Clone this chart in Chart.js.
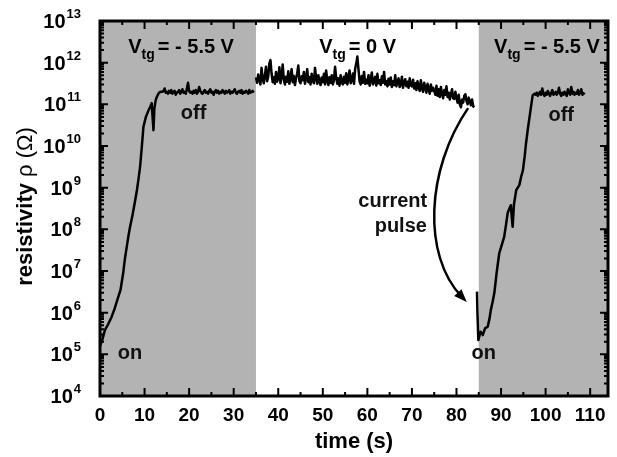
<!DOCTYPE html>
<html><head><meta charset="utf-8">
<script src="https://cdn.jsdelivr.net/npm/chart.js@4.4.0/dist/chart.umd.min.js"></script>
<style>html,body{margin:0;padding:0;background:#fff;}#wrap{width:617px;height:457px;}</style>
</head><body><div id="wrap"><canvas id="c" width="617" height="457"></canvas></div>
<script>
// ---- data (time in s, resistivity in ohm) ----
const timeSeg1 = [0, 0.5, 1.1, 1.8, 2.6, 3.3, 4.1, 4.6, 5.2, 5.6, 6.0, 6.4, 6.75, 7.3, 7.9, 8.3, 8.6, 9.0, 9.4, 9.75, 10.3, 10.9, 11.3, 11.6, 11.8, 12.0, 12.2, 12.5, 12.75, 13.1, 13.5,
  14, 14.25, 14.5, 14.75, 15, 15.25, 15.5, 15.75, 16, 16.25, 16.5, 16.75, 17, 17.25, 17.5, 17.75, 18, 18.25, 18.5, 18.75,
  19, 19.25, 19.5, 19.75, 20, 20.25, 20.5, 20.75, 21, 21.25, 21.5, 21.75, 22, 22.25, 22.5, 22.75, 23, 23.25, 23.5, 23.75,
  24, 24.25, 24.5, 24.75, 25, 25.25, 25.5, 25.75, 26, 26.25, 26.5, 26.75, 27, 27.25, 27.5, 27.75, 28, 28.25, 28.5, 28.75,
  29, 29.25, 29.5, 29.75, 30, 30.25, 30.5, 30.75, 31, 31.25, 31.5, 31.75, 32, 32.25, 32.5, 32.75, 33, 33.25, 33.5, 33.75,
  34, 34.25, 34.5];
const rhoSeg1 = [1.6e5, 2.2e5, 3.8e5, 5.2e5, 7.9e5, 1.26e6, 2.4e6, 3.5e6, 8.9e6, 2.0e7, 3.8e7, 7.1e7, 1.15e8, 2.2e8, 5.0e8, 8.9e8, 1.5e9, 3.2e9, 1.0e10, 2.9e10, 5.0e10, 7.2e10, 8.9e10, 1.07e11, 5.0e10, 2.4e10, 7.9e10, 1.26e11, 1.5e11, 1.8e11, 2.0e11,
  2.0e11, 2.1e11, 2.4e11, 1.9e11, 2.0e11, 1.8e11, 2.1e11, 1.9e11, 2.2e11, 1.8e11, 2.0e11, 2.1e11, 1.7e11, 1.9e11, 2.0e11, 2.2e11, 1.8e11, 2.0e11, 2.3e11, 1.9e11,
  2.0e11, 1.8e11, 2.4e11, 3.3e11, 2.1e11, 1.9e11, 2.0e11, 1.8e11, 2.1e11, 1.9e11, 2.2e11, 1.8e11, 2.0e11, 2.6e11, 2.1e11, 1.9e11, 1.8e11, 2.0e11, 2.2e11, 1.9e11,
  2.0e11, 1.8e11, 2.1e11, 2.3e11, 1.9e11, 2.0e11, 1.7e11, 2.0e11, 2.2e11, 1.9e11, 2.1e11, 1.8e11, 2.0e11, 1.9e11, 2.2e11, 2.0e11, 1.8e11, 2.1e11, 1.9e11, 2.0e11,
  2.2e11, 1.8e11, 2.0e11, 1.9e11, 2.1e11, 2.3e11, 1.9e11, 1.8e11, 2.0e11, 2.1e11, 1.9e11, 2.2e11, 1.8e11, 2.0e11, 1.9e11, 2.1e11, 2.0e11, 1.8e11, 2.2e11, 1.9e11,
  2.0e11, 2.1e11, 1.9e11];

const timeSeg2 = [
  35, 35.25, 35.5, 35.75, 36, 36.25, 36.5, 36.75, 37, 37.25, 37.5, 37.75, 38, 38.25, 38.5, 38.75, 39, 39.25, 39.5, 39.75,
  40, 40.25, 40.5, 40.75, 41, 41.25, 41.5, 41.75, 42, 42.25, 42.5, 42.75, 43, 43.25, 43.5, 43.75, 44, 44.25, 44.5, 44.75,
  45, 45.25, 45.5, 45.75, 46, 46.25, 46.5, 46.75, 47, 47.25, 47.5, 47.75, 48, 48.25, 48.5, 48.75, 49, 49.25, 49.5, 49.75,
  50, 50.25, 50.5, 50.75, 51, 51.25, 51.5, 51.75, 52, 52.25, 52.5, 52.75, 53, 53.25, 53.5, 53.75, 54, 54.25, 54.5, 54.75,
  55, 55.25, 55.5, 55.75, 56, 56.25, 56.5, 56.75, 57, 57.25, 57.5, 57.75, 58, 58.25, 58.5, 58.75, 59, 59.25, 59.5, 59.75,
  60, 60.25, 60.5, 60.75, 61, 61.25, 61.5, 61.75, 62, 62.25, 62.5, 62.75, 63, 63.25, 63.5, 63.75, 64, 64.25, 64.5, 64.75,
  65, 65.25, 65.5, 65.75, 66, 66.25, 66.5, 66.75, 67, 67.25, 67.5, 67.75, 68, 68.25, 68.5, 68.75, 69, 69.25, 69.5, 69.75,
  70, 70.25, 70.5, 70.75, 71, 71.25, 71.5, 71.75, 72, 72.25, 72.5, 72.75, 73, 73.25, 73.5, 73.75, 74, 74.25, 74.5, 74.75,
  75, 75.25, 75.5, 75.75, 76, 76.25, 76.5, 76.75, 77, 77.25, 77.5, 77.75, 78, 78.25, 78.5, 78.75, 79, 79.25, 79.5, 79.75,
  80, 80.25, 80.5, 80.75, 81, 81.25, 81.5, 81.75, 82, 82.25, 82.5, 82.75, 83, 83.25, 83.5, 83.75, 84];
const rhoSeg2 = [
  4.4e11, 3.3e11, 5.2e11, 3.9e11, 3.0e11, 7.5e11, 4.1e11, 3.2e11, 5.0e11, 8.0e11, 3.6e11, 4.6e11, 9.5e11, 1.15e12, 5.5e11, 3.4e11, 4.5e11, 3.1e11, 6.0e11, 3.5e11,
  4.2e11, 7.8e11, 3.2e11, 4.8e11, 9.0e11, 3.9e11, 3.0e11, 4.6e11, 3.5e11, 6.2e11, 3.1e11, 4.3e11, 7.0e11, 3.4e11, 4.8e11, 2.9e11, 4.2e11, 5.5e11, 8.5e11, 3.6e11,
  3.2e11, 4.7e11, 3.8e11, 6.0e11, 3.1e11, 4.2e11, 7.0e11, 3.4e11, 4.5e11, 3.0e11, 5.4e11, 3.7e11, 3.2e11, 7.5e11, 4.3e11, 3.1e11, 5.0e11, 3.6e11, 2.9e11, 4.4e11,
  3.4e11, 5.4e11, 3.0e11, 6.5e11, 3.7e11, 2.9e11, 4.5e11, 3.3e11, 5.0e11, 3.0e11, 3.8e11, 8.0e11, 4.4e11, 3.1e11, 4.2e11, 2.8e11, 5.0e11, 3.5e11, 3.0e11, 4.6e11,
  3.3e11, 5.6e11, 3.0e11, 4.3e11, 6.5e11, 3.2e11, 3.8e11, 5.5e11, 3.1e11, 7.0e11, 9.5e11, 1.4e12, 7.0e11, 3.6e11, 3.0e11, 4.8e11, 3.3e11, 6.0e11, 3.1e11, 3.9e11,
  3.2e11, 5.0e11, 2.8e11, 3.9e11, 5.8e11, 3.0e11, 3.5e11, 4.6e11, 2.8e11, 5.4e11, 3.2e11, 3.8e11, 2.9e11, 4.7e11, 3.3e11, 6.0e11, 3.0e11, 3.6e11, 2.7e11, 4.1e11,
  3.0e11, 4.4e11, 2.6e11, 3.6e11, 2.9e11, 5.0e11, 2.7e11, 3.4e11, 4.2e11, 2.6e11, 3.1e11, 4.6e11, 2.5e11, 3.3e11, 4.0e11, 2.7e11, 3.5e11, 2.5e11, 4.2e11, 2.9e11,
  2.7e11, 3.9e11, 2.4e11, 3.2e11, 2.2e11, 3.6e11, 2.6e11, 2.1e11, 3.8e11, 2.4e11, 2.0e11, 3.3e11, 2.5e11, 1.9e11, 3.1e11, 2.3e11, 1.8e11, 3.0e11, 2.1e11, 2.5e11,
  2.1e11, 1.7e11, 2.8e11, 1.6e11, 2.3e11, 1.5e11, 2.6e11, 1.8e11, 1.4e11, 2.2e11, 1.7e11, 2.7e11, 1.5e11, 1.9e11, 1.3e11, 1.8e11, 2.3e11, 1.4e11, 1.35e11, 2.0e11,
  1.4e11, 1.1e11, 1.7e11, 1.0e11, 8.5e10, 1.3e11, 1.1e11, 1.6e11, 1.75e11, 1.2e11, 1.0e11, 1.45e11, 1.15e11, 9.5e10, 1.3e11, 9.0e10, 8.5e10];

const timeSeg3 = [84.6, 84.7, 84.9, 85.4, 85.9, 86.4, 87.0, 87.4, 87.7, 88.1, 88.5, 89.0, 89.6, 90.1, 90.7, 91.1, 91.5, 91.9, 92.2, 92.4, 92.6, 92.9, 93.4, 94.1, 94.5, 94.9, 95.3, 95.6, 96.0, 96.4, 96.8, 97.1, 97.5,
  97.75, 98, 98.25, 98.5, 98.75, 99, 99.25, 99.5, 99.75, 100, 100.25, 100.5, 100.75, 101, 101.25, 101.5, 101.75, 102, 102.25, 102.5,
  102.75, 103, 103.25, 103.5, 103.75, 104, 104.25, 104.5, 104.75, 105, 105.25, 105.5, 105.75, 106, 106.25, 106.5, 106.75, 107, 107.25, 107.5,
  107.75, 108, 108.25, 108.5, 108.75];
const rhoSeg3 = [3.2e6, 1.0e6, 2.2e5, 3.5e5, 2.9e5, 4.2e5, 4.6e5, 7.1e5, 1.15e6, 1.8e6, 3.0e6, 8.9e6, 2.7e7, 4.0e7, 6.6e7, 1.26e8, 2.5e8, 3.2e8, 3.8e8, 2.0e8, 1.15e8, 4.0e8, 8.7e8, 1.15e9, 1.8e9, 2.6e9, 5.6e9, 1.15e10, 2.5e10, 5.0e10, 1.0e11, 1.66e11, 1.8e11,
  1.7e11, 1.9e11, 1.6e11, 1.8e11, 2.0e11, 1.7e11, 2.4e11, 1.8e11, 1.6e11, 1.9e11, 1.7e11, 2.1e11, 1.8e11, 1.6e11, 1.9e11, 2.2e11, 1.7e11, 1.8e11, 2.0e11, 1.7e11,
  1.9e11, 2.5e11, 1.8e11, 1.6e11, 1.9e11, 1.7e11, 2.0e11, 1.8e11, 1.6e11, 2.3e11, 1.9e11, 1.7e11, 2.6e11, 1.8e11, 2.0e11, 1.7e11, 1.9e11, 1.8e11, 2.2e11, 1.7e11,
  1.9e11, 2.3e11, 1.7e11, 1.8e11, 1.9e11];

// shaded (V_tg = -5.5 V) intervals
const shadeStart = [0, 85];
const shadeEnd = [35, 114];

// tick labels
const xTickLabels = ['0', '10', '20', '30', '40', '50', '60', '70', '80', '90', '100', '110'];
const yTickExponents = ['4', '5', '6', '7', '8', '9', '10', '11', '12', '13'];

// annotation texts
const gateLabels = [{t: 18.2, sub: 'tg', pre: 'V', post: '= - 5.5 V'}, {t: 57.8, sub: 'tg', pre: 'V', post: '= 0 V'}, {t: 100.3, sub: 'tg', pre: 'V', post: '= - 5.5 V'}];
const stateLabels = [{text: 'off', t: 21.0, r: 6.0e10}, {text: 'off', t: 103.5, r: 5.5e10}, {text: 'on', t: 6.75, r: 1.02e5}, {text: 'on', t: 86.1, r: 1.02e5}];
const pulseLabels = [{text: 'current', t: 65.7, r: 4.6e8}, {text: 'pulse', t: 67.5, r: 1.15e8}];
const arrowPts = [[82.6, 8.1e10], [73.1, 2.6e9], [72.4, 2.4e7], [82.3, 1.8e6]];

const FONT = '"Liberation Sans", Arial, Helvetica, sans-serif';

function mk(ts, rs) {
  return {data: ts.map((t, i) => ({x: t, y: rs[i]})), borderColor: '#000', borderWidth: 2.5, pointRadius: 0, tension: 0, fill: false, borderJoinStyle: 'round'};
}

const decor = {
  id: 'decor',
  beforeDatasetsDraw(chart) {
    const {ctx, chartArea: a, scales: {x}} = chart;
    ctx.save();
    ctx.fillStyle = '#b3b3b3';
    for (let i = 0; i < shadeStart.length; i++) {
      const x0 = Math.max(a.left, x.getPixelForValue(shadeStart[i]));
      const x1 = Math.min(a.right, x.getPixelForValue(shadeEnd[i]));
      ctx.fillRect(x0, a.top, x1 - x0, a.bottom - a.top);
    }
    ctx.restore();
  },
  afterDatasetsDraw(chart) {
    const {ctx, chartArea: a, scales: {x, y}} = chart;
    ctx.save();
    ctx.strokeStyle = '#000';
    ctx.fillStyle = '#000';
    // ticks
    ctx.lineWidth = 2;
    ctx.beginPath();
    xTickLabels.forEach(l => {
      const v = Number(l);
      const px = x.getPixelForValue(v);
      ctx.moveTo(px, a.bottom); ctx.lineTo(px, a.bottom - 8);
      ctx.moveTo(px, a.top); ctx.lineTo(px, a.top + 8);
      const pm = x.getPixelForValue(v + 5);
      if (pm < a.right - 1) {
        ctx.moveTo(pm, a.bottom); ctx.lineTo(pm, a.bottom - 4);
        ctx.moveTo(pm, a.top); ctx.lineTo(pm, a.top + 4);
      }
    });
    yTickExponents.forEach(e => {
      const dec = Math.pow(10, Number(e));
      const py = y.getPixelForValue(dec);
      ctx.moveTo(a.left, py); ctx.lineTo(a.left + 8, py);
      ctx.moveTo(a.right, py); ctx.lineTo(a.right - 8, py);
      if (Number(e) < 13) {
        for (let m = 2; m <= 9; m++) {
          const pm = y.getPixelForValue(dec * m);
          ctx.moveTo(a.left, pm); ctx.lineTo(a.left + 4, pm);
          ctx.moveTo(a.right, pm); ctx.lineTo(a.right - 4, pm);
        }
      }
    });
    ctx.stroke();
    // frame
    ctx.lineWidth = 3;
    ctx.strokeRect(a.left, a.top, a.right - a.left, a.bottom - a.top);

    // x tick labels
    ctx.font = 'bold 19px ' + FONT;
    ctx.textAlign = 'center';
    ctx.textBaseline = 'middle';
    xTickLabels.forEach(l => {
      ctx.fillText(l, x.getPixelForValue(Number(l)), a.bottom + 20);
    });
    // y tick labels 10^n
    ctx.textAlign = 'left';
    ctx.textBaseline = 'alphabetic';
    yTickExponents.forEach(e => {
      const py = y.getPixelForValue(Math.pow(10, Number(e)));
      ctx.font = 'bold 20px ' + FONT;
      const wb = ctx.measureText('10').width;
      ctx.font = 'bold 13px ' + FONT;
      const we = ctx.measureText(e).width;
      const right = a.left - 19;
      const x0 = right - wb - we - 1;
      ctx.font = 'bold 20px ' + FONT;
      ctx.fillText('10', x0, py + 7);
      ctx.font = 'bold 13px ' + FONT;
      ctx.fillText(e, x0 + wb + 1, py - 3);
    });
    // axis titles
    ctx.font = 'bold 22px ' + FONT;
    ctx.textAlign = 'center';
    ctx.textBaseline = 'middle';
    ctx.fillText('time (s)', (a.left + a.right) / 2, 442);
    ctx.save();
    ctx.translate(26, (a.top + a.bottom) / 2 - 2);
    ctx.rotate(-Math.PI / 2);
    ctx.textAlign = 'left';
    ctx.font = 'bold 22px ' + FONT;
    const w1 = ctx.measureText('resistivity').width;
    ctx.font = '22px ' + FONT;
    const w2 = ctx.measureText(' \u03C1 (\u03A9)').width;
    const sx = -(w1 + w2) / 2;
    ctx.font = 'bold 22px ' + FONT;
    ctx.fillText('resistivity', sx, 0);
    ctx.font = '22px ' + FONT;
    ctx.fillText(' \u03C1 (\u03A9)', sx + w1, 0);
    ctx.restore();

    // gate voltage labels
    ctx.textAlign = 'left';
    ctx.textBaseline = 'alphabetic';
    const baseY = y.getPixelForValue(Math.pow(10, 12.23));
    gateLabels.forEach(g => {
      ctx.font = 'bold 20px ' + FONT;
      const wv = ctx.measureText(g.pre).width;
      const wp = ctx.measureText(g.post).width;
      ctx.font = 'bold 14px ' + FONT;
      const ws = ctx.measureText(g.sub).width;
      const tot = wv + ws + 3 + wp;
      let cx = x.getPixelForValue(g.t) - tot / 2;
      ctx.font = 'bold 20px ' + FONT;
      ctx.fillText(g.pre, cx, baseY);
      ctx.font = 'bold 14px ' + FONT;
      ctx.fillText(g.sub, cx + wv, baseY + 6);
      ctx.font = 'bold 20px ' + FONT;
      ctx.fillText(g.post, cx + wv + ws + 3, baseY);
    });
    // on/off and pulse labels
    ctx.font = 'bold 20px ' + FONT;
    ctx.textAlign = 'center';
    ctx.textBaseline = 'middle';
    ctx.fillStyle = '#111';
    stateLabels.concat(pulseLabels).forEach(s => {
      ctx.fillText(s.text, x.getPixelForValue(s.t), y.getPixelForValue(s.r));
    });
    // curved arrow
    const P = arrowPts.map(p => [x.getPixelForValue(p[0]), y.getPixelForValue(p[1])]);
    ctx.lineWidth = 2.5;
    ctx.strokeStyle = '#000';
    ctx.beginPath();
    ctx.moveTo(P[0][0], P[0][1]);
    const ang = Math.atan2(P[3][1] - P[2][1], P[3][0] - P[2][0]);
    const endX = P[3][0] - 8 * Math.cos(ang), endY = P[3][1] - 8 * Math.sin(ang);
    ctx.bezierCurveTo(P[1][0], P[1][1], P[2][0], P[2][1], endX, endY);
    ctx.stroke();
    ctx.fillStyle = '#000';
    ctx.beginPath();
    ctx.moveTo(P[3][0], P[3][1]);
    ctx.lineTo(P[3][0] - 13 * Math.cos(ang) + 5 * Math.sin(ang), P[3][1] - 13 * Math.sin(ang) - 5 * Math.cos(ang));
    ctx.lineTo(P[3][0] - 13 * Math.cos(ang) - 5 * Math.sin(ang), P[3][1] - 13 * Math.sin(ang) + 5 * Math.cos(ang));
    ctx.closePath();
    ctx.fill();
    ctx.restore();
  }
};

new Chart(document.getElementById('c'), {
  type: 'line',
  data: {datasets: [mk(timeSeg1, rhoSeg1), mk(timeSeg2, rhoSeg2), mk(timeSeg3, rhoSeg3)]},
  options: {
    responsive: false,
    animation: false,
    layout: {padding: {left: 100, right: 9, top: 21, bottom: 61}},
    plugins: {legend: {display: false}, tooltip: {enabled: false}},
    scales: {
      x: {type: 'linear', min: 0, max: 114, display: false},
      y: {type: 'logarithmic', min: 1e4, max: 1e13, display: false}
    }
  },
  plugins: [decor]
});
</script></body></html>
